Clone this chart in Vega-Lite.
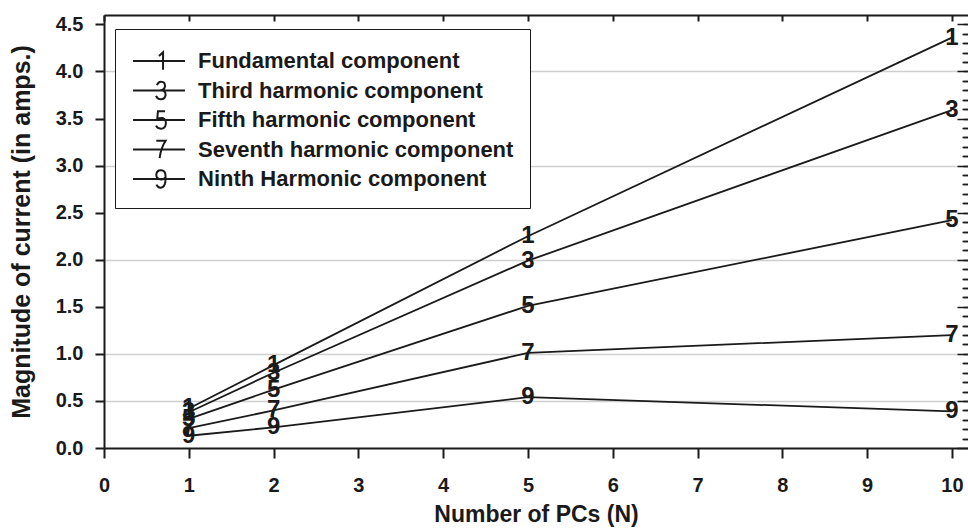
{
  "$schema": "https://vega.github.io/schema/vega-lite/v6.json",
  "width": 864,
  "height": 433,
  "autosize": {"type": "none"},
  "padding": {"left": 104, "top": 15, "right": 0, "bottom": 84},
  "background": "white",
  "config": {
    "view": {"stroke": null},
    "font": "Liberation Sans",
    "axis": {"labelFont": "Liberation Sans", "titleFont": "Liberation Sans", "labelColor": "#1a1a1a", "titleColor": "#1a1a1a", "domainColor": "#1a1a1a", "tickColor": "#1a1a1a"}
  },
  "data": {
    "values": [
      {"series": "Fundamental component", "mark": "1", "N": 1, "current": 0.42},
      {"series": "Fundamental component", "mark": "1", "N": 2, "current": 0.88},
      {"series": "Fundamental component", "mark": "1", "N": 5, "current": 2.25},
      {"series": "Fundamental component", "mark": "1", "N": 10, "current": 4.36},
      {"series": "Third harmonic component", "mark": "3", "N": 1, "current": 0.38},
      {"series": "Third harmonic component", "mark": "3", "N": 2, "current": 0.80},
      {"series": "Third harmonic component", "mark": "3", "N": 5, "current": 1.99},
      {"series": "Third harmonic component", "mark": "3", "N": 10, "current": 3.59},
      {"series": "Fifth harmonic component", "mark": "5", "N": 1, "current": 0.31},
      {"series": "Fifth harmonic component", "mark": "5", "N": 2, "current": 0.62},
      {"series": "Fifth harmonic component", "mark": "5", "N": 5, "current": 1.51},
      {"series": "Fifth harmonic component", "mark": "5", "N": 10, "current": 2.42},
      {"series": "Seventh harmonic component", "mark": "7", "N": 1, "current": 0.21},
      {"series": "Seventh harmonic component", "mark": "7", "N": 2, "current": 0.40},
      {"series": "Seventh harmonic component", "mark": "7", "N": 5, "current": 1.01},
      {"series": "Seventh harmonic component", "mark": "7", "N": 10, "current": 1.20},
      {"series": "Ninth Harmonic component", "mark": "9", "N": 1, "current": 0.13},
      {"series": "Ninth Harmonic component", "mark": "9", "N": 2, "current": 0.22},
      {"series": "Ninth Harmonic component", "mark": "9", "N": 5, "current": 0.54},
      {"series": "Ninth Harmonic component", "mark": "9", "N": 10, "current": 0.39}
    ]
  },
  "resolve": {"axis": {"x": "independent", "y": "independent"}},
  "layer": [
    {
      "mark": {"type": "line", "color": "#1a1a1a", "strokeWidth": 1.8},
      "encoding": {
        "x": {"field": "N", "type": "quantitative", "scale": {"domain": [0, 10.19], "nice": false, "zero": false},
          "axis": {"values": [0,1,2,3,4,5,6,7,8,9,10], "format": "d", "grid": false, "tickSize": 10, "tickWidth": 2, "domainWidth": 2,
            "labelFontSize": 20, "labelFontWeight": "bold", "labelPadding": 17, "labelFlush": false,
            "title": "Number of PCs (N)", "titleFontSize": 23, "titleFontWeight": "bold", "titlePadding": 8}},
        "y": {"field": "current", "type": "quantitative", "scale": {"domain": [0, 4.6], "nice": false, "zero": false},
          "axis": {"values": [0,0.5,1,1.5,2,2.5,3,3.5,4,4.5], "format": ".1f", "grid": false, "tickSize": 9, "tickWidth": 2, "domainWidth": 2,
            "labelFontSize": 20, "labelFontWeight": "bold", "labelPadding": 12, "labelFlush": false,
            "title": "Magnitude of current (in amps.)", "titleFontSize": 25, "titleFontWeight": "bold", "titlePadding": 21}},
        "detail": {"field": "series"}
      }
    },
    {
      "mark": {"type": "text", "color": "#1a1a1a", "fontSize": 24, "fontWeight": "bold", "font": "Liberation Sans", "align": "center", "baseline": "middle"},
      "encoding": {
        "x": {"field": "N", "type": "quantitative",
          "axis": {"values": [0,1,2,3,4,5,6,7,8,9,10], "labels": false, "domain": false, "grid": false, "tickSize": -6, "tickWidth": 2, "title": null}},
        "y": {"field": "current", "type": "quantitative",
          "axis": {"values": [0,0.1,0.2,0.3,0.4,0.5,0.6,0.7,0.8,0.9,1,1.1,1.2,1.3,1.4,1.5,1.6,1.7,1.8,1.9,2,2.1,2.2,2.3,2.4,2.5,2.6,2.7,2.8,2.9,3,3.1,3.2,3.3,3.4,3.5,3.6,3.7,3.8,3.9,4,4.1,4.2,4.3,4.4,4.5],
            "labels": false, "domain": false, "grid": false, "title": null, "tickWidth": 1.5,
            "tickSize": {"condition": {"test": "abs(datum.value*2 - round(datum.value*2)) < 0.01", "value": -11}, "value": -6}}},
        "text": {"field": "mark"}
      }
    },
    {
      "mark": {"type": "point", "opacity": 0, "filled": false},
      "encoding": {
        "x": {"field": "N", "type": "quantitative",
          "axis": {"orient": "top", "labels": false, "ticks": false, "grid": false, "domain": true, "domainWidth": 2, "title": null}},
        "y": {"field": "current", "type": "quantitative",
          "axis": {"orient": "right", "values": [0.1,0.2,0.3,0.4,0.5,0.6,0.7,0.8,0.9,1,1.1,1.2,1.3,1.4,1.5,1.6,1.7,1.8,1.9,2,2.1,2.2,2.3,2.4,2.5,2.6,2.7,2.8,2.9,3,3.1,3.2,3.3,3.4,3.5,3.6,3.7,3.8,3.9,4,4.1,4.2,4.3,4.4,4.5],
            "labels": false, "domain": false, "title": null, "tickSize": -5, "tickWidth": 1.5,
            "grid": true, "gridColor": "#cfcfcf", "gridWidth": 1.5,
            "gridOpacity": {"condition": {"test": "datum.value == 0.5 || datum.value == 1 || datum.value == 2 || datum.value == 3 || datum.value == 4", "value": 1}, "value": 0}}},
        "shape": {"field": "series", "type": "nominal",
          "scale": {"domain": ["Fundamental component", "Third harmonic component", "Fifth harmonic component", "Seventh harmonic component", "Ninth Harmonic component"],
            "range": [
              "M-0.93,0H2.53M0.8,-0.33L1.07,-0.58V0.58",
              "M-0.93,0H2.53M0.66,-0.36Q0.77,-0.6 0.95,-0.58Q1.2,-0.57 1.2,-0.31Q1.19,-0.03 0.88,-0.02Q1.26,0 1.24,0.3Q1.2,0.58 0.93,0.58Q0.69,0.58 0.6,0.36",
              "M-0.93,0H2.53M1.2,-0.58H0.73L0.68,-0.05Q0.88,-0.16 1.04,-0.13Q1.26,-0.05 1.26,0.22Q1.24,0.58 0.93,0.58Q0.69,0.58 0.6,0.38",
              "M-0.93,0H2.53M0.62,-0.58H1.24Q0.93,-0.11 0.84,0.58",
              "M-0.93,0H2.53M1.23,-0.11Q1.1,0.06 0.91,0.03Q0.62,0 0.62,-0.28Q0.64,-0.58 0.93,-0.58Q1.24,-0.58 1.24,-0.17L1.22,0.22Q1.15,0.58 0.91,0.58Q0.71,0.58 0.63,0.38"
            ]},
          "legend": {"orient": "none", "legendX": 11, "legendY": 14, "title": null, "direction": "vertical",
            "strokeColor": "#1a1a1a", "fillColor": "white", "padding": 16,
            "symbolSize": 900, "symbolStrokeColor": "#1a1a1a", "symbolStrokeWidth": 2, "symbolFillColor": "transparent", "symbolOpacity": 1,
            "labelFont": "Liberation Sans", "labelFontSize": 22, "labelFontWeight": "bold", "labelColor": "#1a1a1a", "labelLimit": 500, "labelOffset": 35, "rowPadding": 0.5}}
      }
    }
  ]
}
